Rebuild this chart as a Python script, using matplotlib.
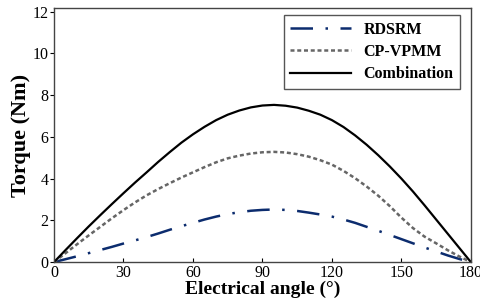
import matplotlib
matplotlib.use("Agg")
import matplotlib.pyplot as plt

# values (electrical angle in degrees, torque in Nm)
angle = list(range(0, 181, 5))
torque_rdsrm = [0, 0.14, 0.28, 0.43, 0.58, 0.73, 0.89, 1.04, 1.2, 1.37, 1.55, 1.72,
                1.88, 2.04, 2.18, 2.3, 2.39, 2.46, 2.5, 2.52, 2.5, 2.45, 2.37, 2.28,
                2.18, 2.04, 1.88, 1.69, 1.5, 1.3, 1.1, 0.9, 0.7, 0.51, 0.32, 0.15, 0]
torque_cpvpmm = [0, 0.43, 0.86, 1.28, 1.69, 2.1, 2.49, 2.86, 3.2, 3.5, 3.78, 4.05,
                 4.3, 4.55, 4.78, 4.97, 5.1, 5.2, 5.26, 5.28, 5.25, 5.17, 5.05, 4.88,
                 4.67, 4.37, 4.02, 3.62, 3.18, 2.68, 2.13, 1.63, 1.22, 0.9, 0.57, 0.27, 0]
torque_comb = [0, 0.58, 1.15, 1.71, 2.25, 2.78, 3.3, 3.81, 4.3, 4.8, 5.27, 5.72,
               6.12, 6.48, 6.8, 7.06, 7.26, 7.41, 7.5, 7.53, 7.49, 7.4, 7.25, 7.06,
               6.8, 6.47, 6.07, 5.62, 5.12, 4.58, 4.0, 3.38, 2.72, 2.04, 1.36, 0.68, 0]

xticks = [0, 30, 60, 90, 120, 150, 180]
yticks = [0, 2, 4, 6, 8, 10, 12]

plt.rcParams['font.family'] = ['Liberation Serif', 'DejaVu Serif']

fig = plt.figure(figsize=(4.8, 3.08), dpi=100)
ax = fig.add_axes([0.1125, 0.149, 0.8685, 0.825])

ax.plot(angle, torque_rdsrm, color='#0c2c6e', lw=1.8,
        linestyle=(0, (9, 5, 1, 5)), label='RDSRM')
ax.plot(angle, torque_cpvpmm, color='#666666', lw=1.8,
        linestyle=(0, (1.6, 1.1)), label='CP-VPMM')
ax.plot(angle, torque_comb, color='black', lw=1.6, label='Combination')

ax.set_xlim(0, 180)
ax.set_ylim(0, 12.17)
ax.set_xticks(xticks)
ax.set_yticks(yticks)
ax.tick_params(axis='x', direction='in', length=3, labelsize=11.5, pad=2)
ax.tick_params(axis='y', direction='out', length=3, labelsize=11.5, pad=1)
for s in ax.spines.values():
    s.set_color('#444444')
    s.set_linewidth(1.0)

ax.set_xlabel('Electrical angle (°)', fontsize=14, fontweight='bold', labelpad=0)
ax.set_ylabel('Torque (Nm)', fontsize=16, fontweight='bold', labelpad=1)

leg = ax.legend(loc='upper right', bbox_to_anchor=(0.9736, 0.972), fancybox=False,
                framealpha=1, edgecolor='#555555', handlelength=3.8,
                prop={'weight': 'bold', 'size': 11.5}, borderpad=0.4,
                labelspacing=0.4, handletextpad=0.8, borderaxespad=0)
leg.get_frame().set_linewidth(1.0)

fig.savefig('out.png', dpi=100)
